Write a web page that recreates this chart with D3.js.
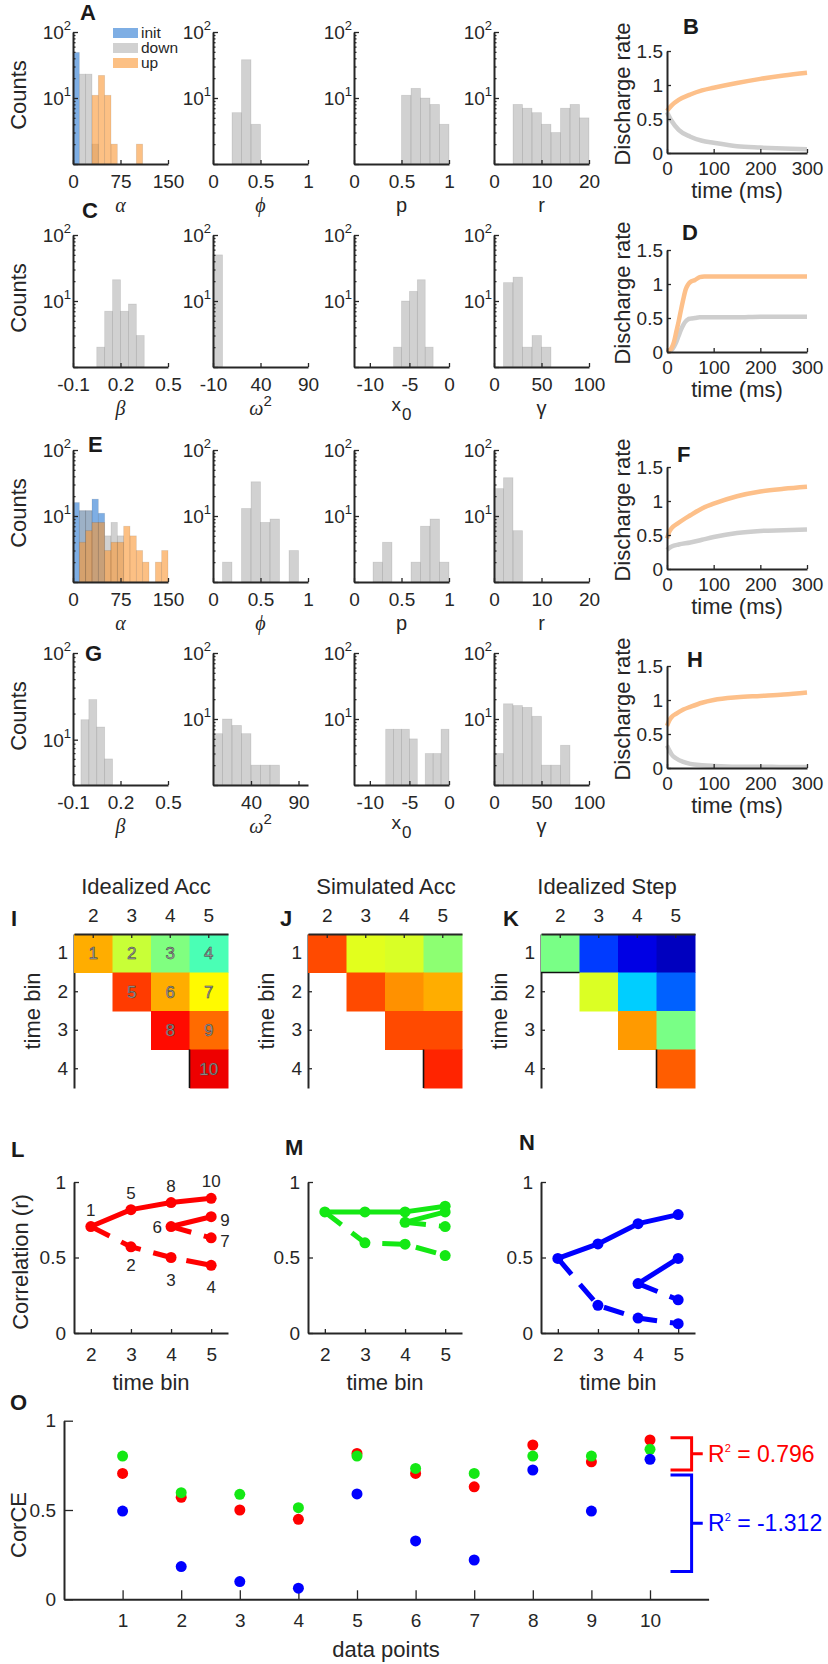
<!DOCTYPE html>
<html><head><meta charset="utf-8">
<script src="https://cdn.jsdelivr.net/npm/d3@7"></script>
<style>
body{margin:0;background:#fff}
svg{display:block}
</style>
</head><body>
<svg id="c" width="828" height="1664"></svg>
<script>
// ================= DATA =================
// Histograms: [binLeftEdge, count]
const A_alpha_bin = 10;
const A_alpha_init = [[0,49]];
const A_alpha_down = [[10,23],[20,23],[30,2]];
const A_alpha_up = [[30,11],[40,22],[50,11],[60,2],[100,2]];
const A_phi_bin = 0.1;
const A_phi = [[0.2,6],[0.3,38],[0.4,4]];
const A_p_bin = 0.1;
const A_p = [[0.5,11],[0.6,14],[0.7,10],[0.8,8],[0.9,4]];
const A_r_bin = 2;
const A_r = [[4,8],[6,7],[8,6],[10,4],[12,3],[14,7],[16,8],[18,5]];

const C_beta_bin = 0.05;
const C_beta = [[0.05,2],[0.1,7],[0.15,21],[0.2,7],[0.25,9],[0.3,3]];
const C_omega_bin = 10;
const C_omega = [[-10,50]];
const C_x0_bin = 1;
const C_x0 = [[-7,2],[-6,10],[-5,14],[-4,21],[-3,2]];
const C_gamma_bin = 10;
const C_gamma = [[10,19],[20,23],[30,2],[40,3],[50,2]];

const E_alpha_bin = 10;
const E_alpha_init = [[0,16],[10,12],[20,12],[30,18],[40,11]];
const E_alpha_down = [[10,12],[20,12],[50,5],[60,8],[70,5]];
const E_alpha_up = [[10,4],[20,6],[30,8],[40,8],[50,3],[60,4],[70,4],[80,7],[90,5],[100,3],[110,2],[130,2],[140,3]];
const E_phi_bin = 0.1;
const E_phi = [[0.1,2],[0.3,13],[0.4,33],[0.5,8],[0.6,9],[0.8,3]];
const E_p_bin = 0.1;
const E_p = [[0.2,2],[0.3,4],[0.6,2],[0.7,7],[0.8,9],[0.9,2]];
const E_r_bin = 2;
const E_r = [[0,26],[2,38],[4,6]];

const G_beta_bin = 0.05;
const G_beta = [[-0.05,17],[0,29],[0.05,14],[0.1,6]];
const G_omega_bin = 10;
const G_omega = [[0,6],[10,10],[20,8],[30,6],[40,2],[50,2],[60,2]];
const G_x0_bin = 1;
const G_x0 = [[-8,7],[-7,7],[-6,7],[-5,5],[-3,3],[-2,3],[-1,7]];
const G_gamma_bin = 10;
const G_gamma = [[0,3],[10,17],[20,16],[30,15],[40,11],[50,2],[60,2],[70,4]];

// Axis tick values
const ticksAlpha = [0,75,150], ticksUnit = [0,0.5,1], ticksR = [0,10,20];
const ticksBeta = [-0.1,0.2,0.5], ticksOmega = [-10,40,90], ticksX0 = [-10,-5,0], ticksGamma = [0,50,100];
const ticksRateY = [0,0.5,1,1.5], ticksTime = [0,100,200,300];

// Discharge rate curves (time in ms, rate)
const B_t = [0,10,25,50,75,100,150,200,250,300];
const B_up = [0.62,0.70,0.78,0.86,0.92,0.96,1.03,1.09,1.14,1.18];
const B_down = [0.60,0.47,0.34,0.24,0.18,0.15,0.10,0.08,0.065,0.055];
const D_t = [0,5,10,15,20,25,30,35,40,45,50,60,70,80,100,150,200,250,300];
const D_up = [0.0,0.02,0.06,0.15,0.30,0.45,0.62,0.78,0.92,0.99,1.03,1.06,1.10,1.11,1.11,1.11,1.11,1.11,1.11];
const D_down = [0.0,0.01,0.03,0.08,0.15,0.24,0.33,0.40,0.45,0.48,0.49,0.50,0.51,0.51,0.51,0.51,0.52,0.52,0.52];
const F_t = [0,5,10,25,50,75,100,150,200,250,300];
const F_up = [0.45,0.55,0.60,0.68,0.79,0.89,0.96,1.07,1.14,1.18,1.21];
const F_down = [0.28,0.31,0.33,0.36,0.39,0.43,0.47,0.53,0.56,0.57,0.58];
const H_t = [0,5,10,20,35,50,75,100,150,200,250,300];
const H_up = [0.62,0.70,0.75,0.80,0.86,0.90,0.96,1.00,1.04,1.06,1.08,1.11];
const H_down = [0.33,0.26,0.20,0.14,0.09,0.06,0.04,0.03,0.02,0.02,0.015,0.015];

// Correlations for the 10 data points (cells of the time-bin matrices)
const cellRow = [1,1,1,1,2,2,2,3,3,4];
const cellCol = [2,3,4,5,3,4,5,4,5,5];
const pointLabels = ["1","2","3","4","5","6","7","8","9","10"];
const redCorr = [0.705,0.571,0.500,0.448,0.817,0.705,0.630,0.864,0.770,0.892];
const greenCorr = [0.802,0.597,0.588,0.513,0.802,0.733,0.705,0.802,0.802,0.840];
const blueCorr = [0.494,0.183,0.099,0.062,0.590,0.327,0.220,0.724,0.494,0.784];
const solidPaths = [[0,4,7,9],[5,8]];
const dashedPaths = [[0,1,2,3],[5,6]];
const binCols = ["2","3","4","5"];
const binRows = ["1","2","3","4"];
const corrTicks = [0,0.5,1];
const dataPointTicks = [1,2,3,4,5,6,7,8,9,10];
const redR2 = "0.796", blueR2 = "-1.312";
const redBracket = [0.724,0.905], blueBracket = [0.155,0.696];

// ================= DRAWING =================
const FONT = "'Liberation Sans', Arial, Helvetica, sans-serif";
const SERIF = "'Liberation Serif', 'Times New Roman', serif";
const AX = "#262626";
const C_INIT = "rgb(40,120,210)", C_DOWN = "rgb(178,178,178)", C_UP = "rgb(250,150,50)";
const L_UP = "rgb(253,192,138)", L_DOWN = "rgb(206,206,206)";
const RED = "rgb(255,0,0)", GREEN = "rgb(20,232,20)", BLUE = "rgb(0,0,255)";

const svg = d3.select("#c").attr("font-family", FONT);

function styleAxis(sel, fs) {
  sel.attr("font-family", FONT).attr("font-size", fs || 19).attr("color", AX);
  sel.select(".domain").attr("stroke-width", 2);
  sel.selectAll(".tick line").attr("stroke-width", 1.3);
  sel.selectAll(".tick text").attr("fill", AX);
  return sel;
}
function txt(x, y, s, opts) {
  opts = opts || {};
  const t = svg.append("text").attr("x", x).attr("y", y).attr("fill", opts.fill || AX)
    .attr("font-size", opts.size || 19).attr("text-anchor", opts.anchor || "start")
    .attr("font-family", opts.family || FONT);
  if (opts.weight) t.attr("font-weight", opts.weight);
  if (opts.style) t.attr("font-style", opts.style);
  if (opts.rotate) t.attr("transform", `rotate(${opts.rotate},${x},${y})`);
  t.text(s);
  return t;
}
function letter(x, y, s) { txt(x, y, s, {size: 22, weight: "bold", fill: "#1a1a1a"}); }

const fmt = d => String(d);

// ---------- log histograms ----------
const histX = [73, 213, 354, 494], histW = 95;
const histY = [32, 235, 450, 653], histH = 132;

function logHist(col, row, xDomain, xTicks, series, label, yDomain) {
  yDomain = yDomain || [1, 100];
  const x = histX[col], y = histY[row];
  const g = svg.append("g");
  const xs = d3.scaleLinear().domain(xDomain).range([x, x + histW]);
  const ys = d3.scaleLog().domain(yDomain).range([y + histH, y]);
  series.forEach(s => {
    g.append("g").selectAll("rect").data(s.data.filter(d => d[1] > 0)).join("rect")
      .attr("x", d => xs(Math.max(d[0], xDomain[0])))
      .attr("width", d => xs(Math.min(d[0] + s.bin, xDomain[1])) - xs(Math.max(d[0], xDomain[0])))
      .attr("y", d => ys(d[1]))
      .attr("height", d => ys(yDomain[0]) - ys(d[1]))
      .attr("fill", s.color).attr("fill-opacity", 0.6)
      .attr("stroke", "#000").attr("stroke-opacity", 0.1).attr("stroke-width", 0.8);
  });
  // y axis (log) with minor ticks
  const majors = [1, 10, 100].filter(v => v >= yDomain[0] - 1e-9 && v <= yDomain[1] + 1e-9);
  const minors = [];
  [1, 10].forEach(dec => { for (let m = 2; m <= 9; m++) { const v = m * dec; if (v > yDomain[0] - 1e-9 && v < yDomain[1]) minors.push(v); } });
  styleAxis(g.append("g").attr("transform", `translate(${x},0)`)
    .call(d3.axisLeft(ys).tickValues(majors).tickSizeInner(-5).tickSizeOuter(0).tickFormat("")));
  const mg = g.append("g").attr("transform", `translate(${x},0)`)
    .call(d3.axisLeft(ys).tickValues(minors).tickSizeInner(-2.5).tickSizeOuter(0).tickFormat(""));
  styleAxis(mg); mg.select(".domain").remove();
  [10, 100].forEach((v, i) => {
    const t = g.append("text").attr("x", x - 2).attr("y", ys(v) + 7).attr("text-anchor", "end")
      .attr("font-size", 19).attr("fill", AX);
    t.append("tspan").text("10");
    t.append("tspan").attr("dy", -9).attr("font-size", 13).text(i + 1);
  });
  // x axis
  const tv = xTicks.filter(v => v >= xDomain[0] - 1e-9 && v <= xDomain[1] + 1e-9);
  styleAxis(g.append("g").attr("transform", `translate(0,${y + histH})`)
    .call(d3.axisBottom(xs).tickValues(tv).tickSizeInner(-4).tickSizeOuter(0).tickPadding(10.5).tickFormat(fmt)));
  // x label
  label(x + histW / 2, y + histH + 48);
}

function lab(greek, family, italic) {
  return (cx, cy) => txt(cx, cy, greek, {anchor: "middle", family: family, style: italic ? "italic" : null, size: 20});
}
const labAlpha = lab("α", SERIF, true), labPhi = lab("ϕ", SERIF, true), labBeta = lab("β", SERIF, true);
const labP = lab("p", FONT, false), labR = lab("r", FONT, false), labGamma = lab("γ", FONT, false);
function labOmega(cx, cy) {
  const t = txt(cx, cy, "", {anchor: "middle", size: 20});
  t.append("tspan").attr("font-family", SERIF).attr("font-style", "italic").text("ω");
  t.append("tspan").attr("dy", -9).attr("font-size", 15).text("2");
}
function labX0(cx, cy) {
  const t = txt(cx, cy - 4, "", {anchor: "middle", size: 19});
  t.append("tspan").text("x");
  t.append("tspan").attr("dy", 9).attr("dx", 1).attr("font-size", 17).text("0");
}

const S = (data, bin, color) => ({data, bin, color});
// Row A
logHist(0, 0, [0,150], ticksAlpha, [S(A_alpha_init, A_alpha_bin, C_INIT), S(A_alpha_down, A_alpha_bin, C_DOWN), S(A_alpha_up, A_alpha_bin, C_UP)], labAlpha);
logHist(1, 0, [0,1], ticksUnit, [S(A_phi, A_phi_bin, C_DOWN)], labPhi);
logHist(2, 0, [0,1], ticksUnit, [S(A_p, A_p_bin, C_DOWN)], labP);
logHist(3, 0, [0,20], ticksR, [S(A_r, A_r_bin, C_DOWN)], labR);
// Row C
logHist(0, 1, [-0.1,0.5], ticksBeta, [S(C_beta, C_beta_bin, C_DOWN)], labBeta);
logHist(1, 1, [-10,90], ticksOmega, [S(C_omega, C_omega_bin, C_DOWN)], labOmega);
logHist(2, 1, [-12,0], ticksX0, [S(C_x0, C_x0_bin, C_DOWN)], labX0);
logHist(3, 1, [0,100], ticksGamma, [S(C_gamma, C_gamma_bin, C_DOWN)], labGamma);
// Row E
logHist(0, 2, [0,150], ticksAlpha, [S(E_alpha_init, E_alpha_bin, C_INIT), S(E_alpha_down, E_alpha_bin, C_DOWN), S(E_alpha_up, E_alpha_bin, C_UP)], labAlpha);
logHist(1, 2, [0,1], ticksUnit, [S(E_phi, E_phi_bin, C_DOWN)], labPhi);
logHist(2, 2, [0,1], ticksUnit, [S(E_p, E_p_bin, C_DOWN)], labP);
logHist(3, 2, [0,20], ticksR, [S(E_r, E_r_bin, C_DOWN)], labR);
// Row G
logHist(0, 3, [-0.1,0.5], ticksBeta, [S(G_beta, G_beta_bin, C_DOWN)], labBeta, [3,100]);
logHist(1, 3, [0,100], ticksOmega, [S(G_omega, G_omega_bin, C_DOWN)], labOmega);
logHist(2, 3, [-12,0], ticksX0, [S(G_x0, G_x0_bin, C_DOWN)], labX0);
logHist(3, 3, [0,100], ticksGamma, [S(G_gamma, G_gamma_bin, C_DOWN)], labGamma);

// Counts labels
histY.forEach(y => txt(26, y + histH / 2 - 3, "Counts", {anchor: "middle", size: 22, rotate: -90}));

// Legend in A
[["init", C_INIT], ["down", C_DOWN], ["up", C_UP]].forEach((d, i) => {
  svg.append("rect").attr("x", 113).attr("y", 28 + i * 15).attr("width", 25).attr("height", 10)
    .attr("fill", d[1]).attr("fill-opacity", 0.6);
  txt(141, 37.5 + i * 15, d[0], {size: 15.5});
});

// ---------- discharge rate panels ----------
const rateX = 667, rateW = 140, rateH = 102;
function ratePanel(top, t, up, down) {
  const g = svg.append("g");
  const xs = d3.scaleLinear().domain([0,300]).range([rateX, rateX + rateW]);
  const ys = d3.scaleLinear().domain([0,1.5]).range([top + rateH, top]);
  const line = d3.line().x((d, i) => xs(t[i])).y(d => ys(d)).curve(d3.curveMonotoneX);
  g.append("path").attr("d", line(down)).attr("fill", "none").attr("stroke", L_DOWN).attr("stroke-width", 4.5);
  g.append("path").attr("d", line(up)).attr("fill", "none").attr("stroke", L_UP).attr("stroke-width", 4.5);
  styleAxis(g.append("g").attr("transform", `translate(${rateX},0)`)
    .call(d3.axisLeft(ys).tickValues(ticksRateY).tickSizeInner(-4).tickSizeOuter(0).tickPadding(4).tickFormat(fmt)));
  styleAxis(g.append("g").attr("transform", `translate(0,${top + rateH})`)
    .call(d3.axisBottom(xs).tickValues(ticksTime).tickSizeInner(-4).tickSizeOuter(0).tickPadding(8.5).tickFormat(fmt)));
  txt(rateX + rateW / 2, top + rateH + 45, "time (ms)", {anchor: "middle", size: 22});
  txt(630, top + rateH / 2 - 8, "Discharge rate", {anchor: "middle", size: 22, rotate: -90});
}
ratePanel(51, B_t, B_up, B_down);
ratePanel(250, D_t, D_up, D_down);
ratePanel(467, F_t, F_up, F_down);
ratePanel(666, H_t, H_up, H_down);

// ---------- heatmaps ----------
function jet(t) {
  const c = v => Math.round(255 * Math.max(0, Math.min(1, v)));
  return `rgb(${c(1.5 - Math.abs(4 * t - 3))},${c(1.5 - Math.abs(4 * t - 2))},${c(1.5 - Math.abs(4 * t - 1))})`;
}
const colorScale = d3.scaleSequential(jet).domain([0, 1]);
const heatX = [74, 308, 541], heatTop = 934, heatSize = 154;
function heatmap(x0, vals, withNumbers, title, titleCx, hLine) {
  const g = svg.append("g");
  const xb = d3.scaleBand().domain(binCols).range([x0, x0 + heatSize]);
  const yb = d3.scaleBand().domain(binRows).range([heatTop, heatTop + heatSize]);
  styleAxis(g.append("g").attr("transform", `translate(${x0},0)`)
    .call(d3.axisLeft(yb).tickSizeInner(-4).tickSizeOuter(0).tickPadding(6)));
  g.append("g").selectAll("rect").data(vals).join("rect")
    .attr("x", (d, i) => xb(String(cellCol[i]))).attr("y", (d, i) => yb(String(cellRow[i])))
    .attr("width", xb.bandwidth() + 0.5).attr("height", yb.bandwidth() + 0.5)
    .attr("fill", d => colorScale(d));
  styleAxis(g.append("g").attr("transform", `translate(0,${heatTop})`)
    .call(d3.axisTop(xb).tickSizeInner(-4).tickSizeOuter(0).tickPadding(12)));
  // edge artefacts seen in the figure
  g.append("line").attr("x1", xb("5")).attr("x2", xb("5")).attr("y1", yb("4")).attr("y2", yb("4") + yb.bandwidth())
    .attr("stroke", "#111").attr("stroke-width", 1.6);
  if (hLine) g.append("line").attr("x1", xb("2")).attr("x2", xb("2") + xb.bandwidth())
    .attr("y1", yb("1") + yb.bandwidth()).attr("y2", yb("1") + yb.bandwidth()).attr("stroke", "#111").attr("stroke-width", 1.6);
  if (withNumbers) {
    g.append("g").selectAll("text").data(vals).join("text")
      .attr("x", (d, i) => xb(String(cellCol[i])) + xb.bandwidth() / 2)
      .attr("y", (d, i) => yb(String(cellRow[i])) + yb.bandwidth() / 2 + 6)
      .attr("text-anchor", "middle").attr("font-size", 17).attr("font-family", FONT)
      .attr("fill", "#a0a0a0").attr("stroke", "#404040").attr("stroke-width", 0.5)
      .text((d, i) => pointLabels[i]);
  }
  txt(titleCx, 894, title, {anchor: "middle", size: 22});
  txt(x0 - 34, heatTop + heatSize / 2, "time bin", {anchor: "middle", size: 22, rotate: -90});
}
heatmap(heatX[0], redCorr, true, "Idealized Acc", 146, false);
heatmap(heatX[1], greenCorr, false, "Simulated Acc", 386, false);
heatmap(heatX[2], blueCorr, false, "Idealized Step", 607, true);

// ---------- correlation line panels ----------
const corrTop = 1182, corrBot = 1333, corrW = 154;
function corrPanel(x0, vals, color, withLabels) {
  const g = svg.append("g");
  const xs = d3.scaleLinear().domain([1.58, 5.42]).range([x0, x0 + corrW]);
  const ys = d3.scaleLinear().domain([0, 1]).range([corrBot, corrTop]);
  styleAxis(g.append("g").attr("transform", `translate(${x0},0)`)
    .call(d3.axisLeft(ys).tickValues(corrTicks).tickSizeInner(-5).tickSizeOuter(0).tickPadding(8).tickFormat(fmt)));
  styleAxis(g.append("g").attr("transform", `translate(0,${corrBot})`)
    .call(d3.axisBottom(xs).tickValues([2,3,4,5]).tickSizeInner(-4).tickSizeOuter(0).tickPadding(14.5).tickFormat(fmt)));
  const line = d3.line().x(i => xs(cellCol[i])).y(i => ys(vals[i]));
  solidPaths.forEach(p => g.append("path").attr("d", line(p)).attr("fill", "none").attr("stroke", color)
    .attr("stroke-width", 5).attr("stroke-linejoin", "round"));
  dashedPaths.forEach(p => g.append("path").attr("d", line(p)).attr("fill", "none").attr("stroke", color)
    .attr("stroke-width", 5).attr("stroke-dasharray", "21,13"));
  g.append("g").selectAll("circle").data(vals).join("circle")
    .attr("cx", (d, i) => xs(cellCol[i])).attr("cy", d => ys(d)).attr("r", 5.5).attr("fill", color);
  if (withLabels) {
    const place = ["above","below","below","below","above","left","right","above","right","above"];
    vals.forEach((v, i) => {
      let dx = 0, dy = 0, anchor = "middle";
      if (place[i] === "above") dy = -11;
      if (place[i] === "below") dy = (i === 1 ? 24 : 28);
      if (place[i] === "left") { dx = -9; dy = 6; anchor = "end"; }
      if (place[i] === "right") { dx = 9; dy = 9; anchor = "start"; }
      txt(xs(cellCol[i]) + dx, ys(v) + dy, pointLabels[i], {anchor, size: 17});
    });
  }
  txt(x0 + corrW / 2, corrBot + 57, "time bin", {anchor: "middle", size: 22});
}
corrPanel(heatX[0], redCorr, RED, true);
corrPanel(heatX[1], greenCorr, GREEN, false);
corrPanel(heatX[2], blueCorr, BLUE, false);
txt(28, 1262, "Correlation (r)", {anchor: "middle", size: 22, rotate: -90});

// ---------- O panel ----------
(function () {
  const g = svg.append("g");
  const xs = d3.scaleLinear().domain([0, 11]).range([64, 708.6]);
  const ys = d3.scaleLinear().domain([0, 1]).range([1599.3, 1420.7]);
  styleAxis(g.append("g").attr("transform", `translate(64,0)`)
    .call(d3.axisLeft(ys).tickValues(corrTicks).tickSizeInner(-9).tickSizeOuter(0).tickPadding(8).tickFormat(fmt)));
  styleAxis(g.append("g").attr("transform", `translate(0,1599.3)`)
    .call(d3.axisBottom(xs).tickValues(dataPointTicks).tickSizeInner(-9).tickSizeOuter(0).tickPadding(14).tickFormat(fmt)));
  [[redCorr, RED], [greenCorr, GREEN], [blueCorr, BLUE]].forEach(([vals, col]) => {
    g.append("g").selectAll("circle").data(vals).join("circle")
      .attr("cx", (d, i) => xs(dataPointTicks[i])).attr("cy", d => ys(d)).attr("r", 5.5).attr("fill", col);
  });
  // brackets
  [[redBracket, RED, redR2], [blueBracket, BLUE, blueR2]].forEach(([b, col, r2]) => {
    const xv = xs(10.71), xl = xs(10.35), xr = xs(10.9);
    const y1 = ys(b[0]), y2 = ys(b[1]), ym = (y1 + y2) / 2;
    g.append("path").attr("d", `M${xl},${y2}H${xv}V${y1}H${xl}M${xv},${ym}H${xr}`)
      .attr("fill", "none").attr("stroke", col).attr("stroke-width", 3);
    const t = txt(708, ym + 8, "", {size: 23, fill: col});
    t.append("tspan").text("R");
    t.append("tspan").attr("dy", -10).attr("font-size", 11).text("2");
    t.append("tspan").attr("dy", 10).text(" = " + r2);
  });
  txt(386, 1657, "data points", {anchor: "middle", size: 22});
  txt(26, 1525, "CorCE", {anchor: "middle", size: 22, rotate: -90});
})();

// panel letters
letter(80, 20, "A"); letter(683, 34, "B"); letter(82, 218, "C"); letter(682, 240, "D");
letter(88, 452, "E"); letter(677, 462, "F"); letter(85, 661, "G"); letter(687, 667, "H");
letter(11, 926, "I"); letter(280, 926, "J"); letter(503, 926, "K");
letter(11, 1157, "L"); letter(285, 1155, "M"); letter(519, 1150, "N"); letter(10, 1410, "O");
</script>
</body></html>
